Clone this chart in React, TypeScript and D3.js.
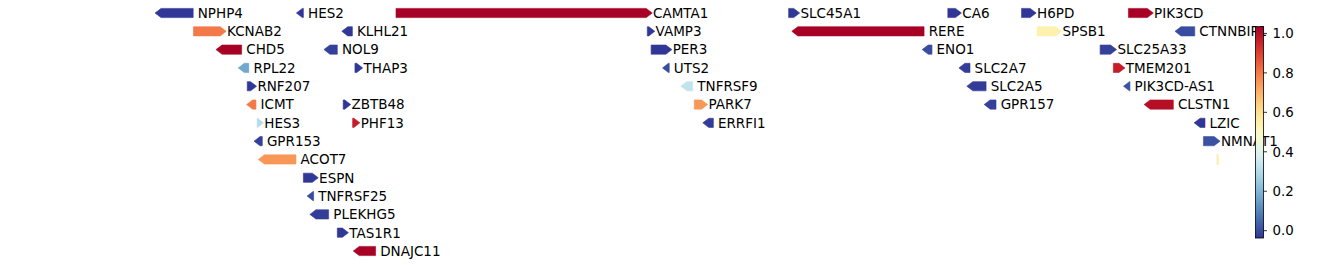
import React from "react";
import * as d3 from "d3";

// Genomic coordinates in kb (chr1), strand, display row and colour value
const geneNames = [
  "NPHP4", "HES2", "CAMTA1", "SLC45A1", "CA6", "H6PD", "PIK3CD",
  "KCNAB2", "KLHL21", "VAMP3", "RERE", "SPSB1", "CTNNBIP1",
  "CHD5", "NOL9", "PER3", "ENO1", "SLC25A33",
  "RPL22", "THAP3", "UTS2", "SLC2A7", "TMEM201",
  "RNF207", "TNFRSF9", "SLC2A5", "PIK3CD-AS1",
  "ICMT", "ZBTB48", "PARK7", "GPR157", "CLSTN1",
  "HES3", "PHF13", "ERRFI1", "LZIC",
  "GPR153", "NMNAT1",
  "ACOT7", "",
  "ESPN", "TNFRSF25", "PLEKHG5", "TAS1R1", "DNAJC11",
];
const geneStart = [
  5924, 6478, 6845, 8384, 9008, 9297, 9716,
  6051, 6656, 7830, 8420, 9358, 9922,
  6163, 6586, 7845, 8931, 9605,
  6250, 6684, 7913, 9075, 9657,
  6262, 7985, 9106, 9720,
  6283, 6638, 8014, 9174, 9801,
  6301, 6675, 8071, 9997,
  6312, 10010,
  6329, 10065,
  6482, 6520, 6531, 6615, 6701,
];
const geneEnd = [
  6050, 6482, 7826, 8404, 9038, 9331, 9790,
  6156, 6674, 7836, 8915, 9431, 9976,
  6240, 6615, 7903, 8946, 9646,
  6268, 6691, 7916, 9095, 9679,
  6275, 8008, 9158, 9722,
  6296, 6644, 8043, 9197, 9892,
  6302, 6680, 8089, 10016,
  6321, 10052,
  6453, 10066,
  6517, 6522, 6581, 6635, 6765,
];
const geneStrand = [
  "-", "-", "+", "+", "+", "+", "+",
  "+", "-", "+", "-", "+", "-",
  "-", "-", "+", "-", "+",
  "-", "+", "-", "-", "+",
  "+", "-", "-", "-",
  "-", "+", "+", "-", "-",
  "+", "+", "-", "-",
  "-", "+",
  "-", "0",
  "+", "-", "-", "+", "-",
];
const geneRow = [
  0, 0, 0, 0, 0, 0, 0,
  1, 1, 1, 1, 1, 1,
  2, 2, 2, 2, 2,
  3, 3, 3, 3, 3,
  4, 4, 4, 4,
  5, 5, 5, 5, 5,
  6, 6, 6, 6,
  7, 7,
  8, 8,
  9, 10, 11, 12, 13,
];
const geneValue = [
  -0.035, -0.035, 1.03, -0.035, -0.035, -0.035, 1.03,
  0.8, -0.035, -0.035, 1.03, 0.54, 0.0,
  1.03, -0.02, -0.035, 0.0, -0.02,
  0.17, -0.035, 0.0, -0.025, 0.97,
  -0.035, 0.33, -0.025, 0.01,
  0.8, -0.035, 0.75, -0.02, 1.0,
  0.3, 0.97, -0.025, -0.035,
  -0.02, 0.01,
  0.75, 0.55,
  -0.035, 0.0, -0.025, -0.035, 1.03,
];
const cbarTicks = [0.0, 0.2, 0.4, 0.6, 0.8, 1.0];
const cbarDomain = [-0.037, 1.034];

const W = 1338;
const H = 265;
const FONT = "'DejaVu Sans', sans-serif";

export default function App() {
  const x = d3.scaleLinear().domain([5800, 10100]).range([129.4, 1226.4]);
  const y = d3.scaleLinear().domain([0, 13]).range([13, 251]);
  const norm = d3.scaleLinear().domain(cbarDomain).range([0, 1]).clamp(true);
  const color = (v: number) => d3.interpolateRdYlBu(1 - norm(v));
  const cy = d3.scaleLinear().domain(cbarDomain).range([238, 26.7]);

  const head = 6;
  const hh = 4.6;

  const genes = geneNames.map((name, i) => {
    const x0 = x(geneStart[i]);
    const x1 = x(geneEnd[i]);
    const yc = y(geneRow[i]);
    const s = geneStrand[i];
    let pts: [number, number][];
    if (s === "+") {
      pts = [[x0, yc - hh], [x1, yc - hh], [x1 + head, yc], [x1, yc + hh], [x0, yc + hh]];
    } else if (s === "-") {
      pts = [[x1, yc - hh], [x0, yc - hh], [x0 - head, yc], [x0, yc + hh], [x1, yc + hh]];
    } else {
      pts = [[x0 - 0.6, yc - hh * 1.1], [x1 + 0.6, yc - hh * 1.1], [x1 + 0.6, yc + hh * 1.1], [x0 - 0.6, yc + hh * 1.1]];
    }
    const lx = s === "+" ? x1 + head + 0.8 : x1 + 4.6;
    return { name, pts, yc, lx, fill: color(geneValue[i]) };
  });

  const stops = d3.range(0, 1.0001, 0.02);
  const cbX = 1255.5;
  const cbW = 8;

  return (
    <svg width={W} height={H} style={{ position: "absolute", left: 0, top: 0, background: "#fff" }}>
      <defs>
        <linearGradient id="cbar" x1="0" y1="1" x2="0" y2="0">
          {stops.map((t) => (
            <stop key={t} offset={`${t * 100}%`} stopColor={d3.interpolateRdYlBu(1 - t)} />
          ))}
        </linearGradient>
      </defs>
      {genes.map((g, i) => (
        <g key={i}>
          <polygon
            points={g.pts.map((p) => p.join(",")).join(" ")}
            fill={g.fill}
            stroke={g.fill}
            strokeWidth={0.6}
          />
          {g.name && (
            <text x={g.lx} y={g.yc} dy="0.36em" fontFamily={FONT} fontSize={13.5} fill="#000">
              {g.name}
            </text>
          )}
        </g>
      ))}
      <rect x={cbX} y={cy(cbarDomain[1])} width={cbW} height={cy(cbarDomain[0]) - cy(cbarDomain[1])} fill="url(#cbar)" stroke="#000" strokeWidth={0.8} />
      {cbarTicks.map((t) => (
        <g key={t}>
          <line x1={cbX + cbW} x2={cbX + cbW + 3.5} y1={cy(t)} y2={cy(t)} stroke="#000" strokeWidth={0.8} />
          <text x={cbX + cbW + 9} y={cy(t)} dy="0.36em" fontFamily={FONT} fontSize={13.33} fill="#000">
            {t.toFixed(1)}
          </text>
        </g>
      ))}
    </svg>
  );
}
